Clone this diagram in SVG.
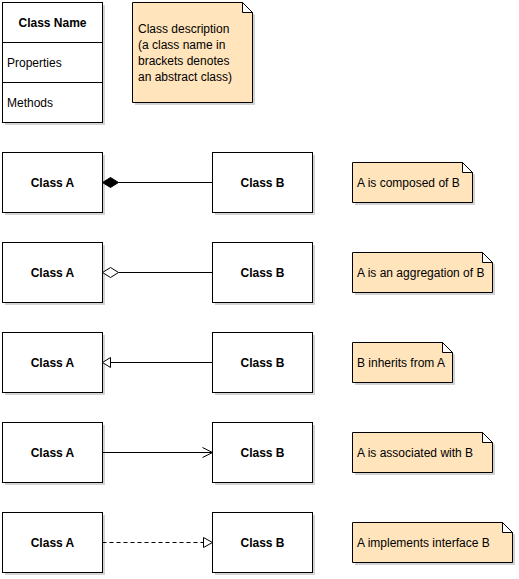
<svg xmlns="http://www.w3.org/2000/svg" width="519" height="579" viewBox="0 0 519 579">
<defs>
<style>
.box{fill:#fff;stroke:#000;stroke-width:1}
.sh{fill:#d3d3d3}
.note{fill:#ffe4bc;stroke:#000;stroke-width:1}
.fold{fill:#fff;stroke:#000;stroke-width:1}
text{font-family:"Liberation Sans",Arial,sans-serif;font-size:12px;fill:#000}
.b{font-weight:bold;text-anchor:middle}
.ln{stroke:#000;stroke-width:1;fill:none}
</style>
</defs>
<rect width="519" height="579" fill="#fff"/>
<g id="classname">
<rect class="sh" x="5" y="5" width="100" height="120"/>
<rect class="box" x="2.5" y="2.5" width="100" height="120"/>
<line class="ln" x1="2.5" y1="42.5" x2="102.5" y2="42.5"/>
<line class="ln" x1="2.5" y1="82.5" x2="102.5" y2="82.5"/>
<text class="b" x="52.5" y="27">Class Name</text>
<text x="7" y="67">Properties</text>
<text x="7" y="107">Methods</text>
</g>
<g id="note-desc">
<path class="sh" d="M135 5H245L255 15V105H135Z"/>
<path class="note" d="M132.5 2.5H242.5L252.5 12.5V102.5H132.5Z"/>
<path class="fold" d="M242.5 2.5V12.5H252.5Z"/>
<text x="138" y="33">Class description</text>
<text x="138" y="49">(a class name in</text>
<text x="138" y="65">brackets denotes</text>
<text x="138" y="81">an abstract class)</text>
</g>
<g id="row1">
<g id="a1"><rect class="sh" x="5" y="155" width="100" height="60"/><rect class="box" x="2.5" y="152.5" width="100" height="60"/><text class="b" x="52.5" y="187">Class A</text></g>
<g id="b1"><rect class="sh" x="215" y="155" width="100" height="60"/><rect class="box" x="212.5" y="152.5" width="100" height="60"/><text class="b" x="262.5" y="187">Class B</text></g>
<g id="n1"><path class="sh" d="M355 165H465L475 175V205H355Z"/><path class="note" d="M352.5 162.5H462.5L472.5 172.5V202.5H352.5Z"/><path class="fold" d="M462.5 162.5V172.5H472.5Z"/><text x="357" y="187">A is composed of B</text></g>
</g>
<g id="row2">
<g id="a2"><rect class="sh" x="5" y="245" width="100" height="60"/><rect class="box" x="2.5" y="242.5" width="100" height="60"/><text class="b" x="52.5" y="277">Class A</text></g>
<g id="b2"><rect class="sh" x="215" y="245" width="100" height="60"/><rect class="box" x="212.5" y="242.5" width="100" height="60"/><text class="b" x="262.5" y="277">Class B</text></g>
<g id="n2"><path class="sh" d="M355 255H485L495 265V295H355Z"/><path class="note" d="M352.5 252.5H482.5L492.5 262.5V292.5H352.5Z"/><path class="fold" d="M482.5 252.5V262.5H492.5Z"/><text x="357" y="277">A is an aggregation of B</text></g>
</g>
<g id="row3">
<g id="a3"><rect class="sh" x="5" y="335" width="100" height="60"/><rect class="box" x="2.5" y="332.5" width="100" height="60"/><text class="b" x="52.5" y="367">Class A</text></g>
<g id="b3"><rect class="sh" x="215" y="335" width="100" height="60"/><rect class="box" x="212.5" y="332.5" width="100" height="60"/><text class="b" x="262.5" y="367">Class B</text></g>
<g id="n3"><path class="sh" d="M355 345H445L455 355V385H355Z"/><path class="note" d="M352.5 342.5H442.5L452.5 352.5V382.5H352.5Z"/><path class="fold" d="M442.5 342.5V352.5H452.5Z"/><text x="357" y="367">B inherits from A</text></g>
</g>
<g id="row4">
<g id="a4"><rect class="sh" x="5" y="425" width="100" height="60"/><rect class="box" x="2.5" y="422.5" width="100" height="60"/><text class="b" x="52.5" y="457">Class A</text></g>
<g id="b4"><rect class="sh" x="215" y="425" width="100" height="60"/><rect class="box" x="212.5" y="422.5" width="100" height="60"/><text class="b" x="262.5" y="457">Class B</text></g>
<g id="n4"><path class="sh" d="M355 435H485L495 445V475H355Z"/><path class="note" d="M352.5 432.5H482.5L492.5 442.5V472.5H352.5Z"/><path class="fold" d="M482.5 432.5V442.5H492.5Z"/><text x="357" y="457">A is associated with B</text></g>
</g>
<g id="row5">
<g id="a5"><rect class="sh" x="5" y="515" width="100" height="60"/><rect class="box" x="2.5" y="512.5" width="100" height="60"/><text class="b" x="52.5" y="547">Class A</text></g>
<g id="b5"><rect class="sh" x="215" y="515" width="100" height="60"/><rect class="box" x="212.5" y="512.5" width="100" height="60"/><text class="b" x="262.5" y="547">Class B</text></g>
<g id="n5"><path class="sh" d="M355 525H505L515 535V565H355Z"/><path class="note" d="M352.5 522.5H502.5L512.5 532.5V562.5H352.5Z"/><path class="fold" d="M502.5 522.5V532.5H512.5Z"/><text x="357" y="547">A implements interface B</text></g>
</g>
<g id="connectors">
<line class="ln" x1="118.5" y1="182.5" x2="212.5" y2="182.5"/>
<path d="M102.5 182.5L110.5 177.5L118.5 182.5L110.5 187.5Z" fill="#000" stroke="#000"/>
<line class="ln" x1="118.5" y1="272.5" x2="212.5" y2="272.5"/>
<path d="M102.5 272.5L110.5 267.5L118.5 272.5L110.5 277.5Z" fill="#fff" stroke="#000"/>
<line class="ln" x1="110.5" y1="362.5" x2="212.5" y2="362.5"/>
<path d="M102.5 362.5L110.5 357.5V367.5Z" fill="#fff" stroke="#000"/>
<line class="ln" x1="102.5" y1="452.5" x2="212.5" y2="452.5"/>
<path class="ln" d="M202.5 447.5L212.5 452.5L202.5 457.5"/>
<line class="ln" x1="102.5" y1="542.5" x2="203.5" y2="542.5" stroke-dasharray="4 3"/>
<path d="M212.5 542.5L203.5 537.5V547.5Z" fill="#fff" stroke="#000"/>
</g>
</svg>
